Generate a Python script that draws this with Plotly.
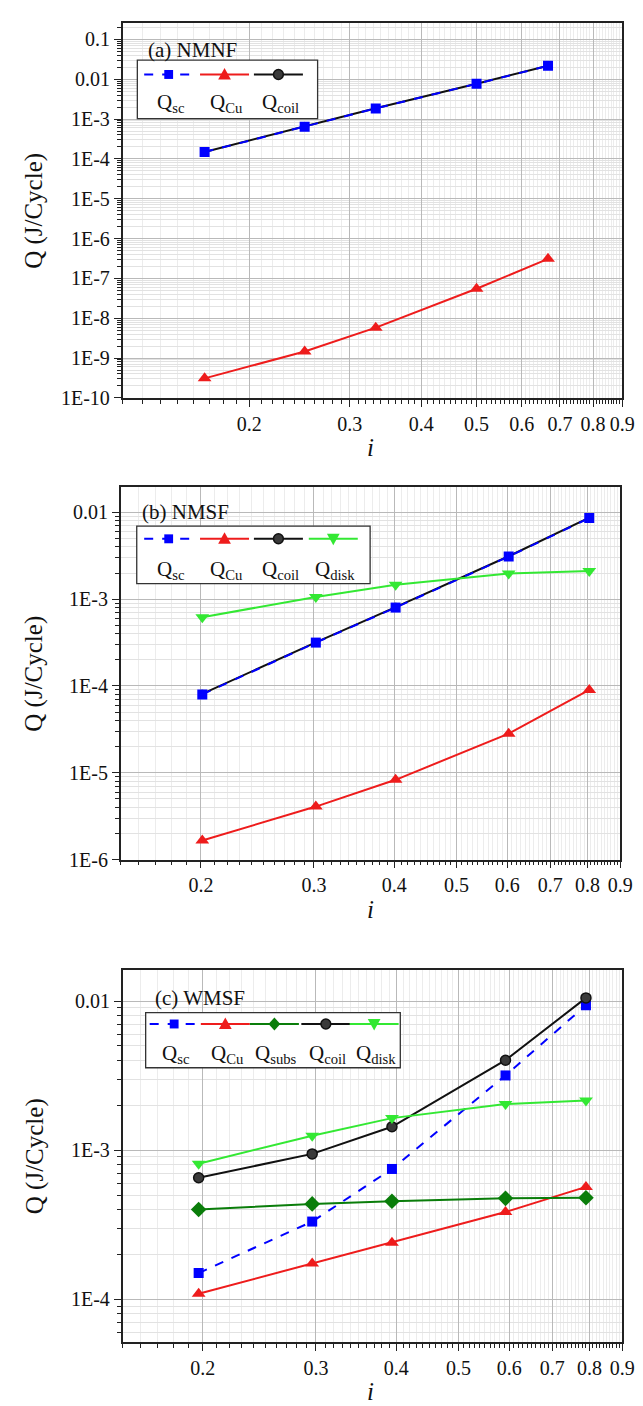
import math
import plotly.graph_objects as go

W, H = 643, 1406

# ---------------- data ----------------
a_x = [0.167, 0.25, 0.333, 0.5, 0.667]
a_sc = [1.49e-4, 6.4e-4, 1.86e-3, 7.7e-3, 2.18e-2]
a_cu = [3.1e-10, 1.46e-9, 5.8e-9, 5.5e-8, 3.1e-7]
a_coil = [1.50e-4, 6.45e-4, 1.87e-3, 7.75e-3, 2.19e-2]

b_x = [0.201, 0.302, 0.402, 0.603, 0.805]
b_sc = [8.0e-5, 3.16e-4, 8.0e-4, 3.1e-3, 8.6e-3]
b_cu = [1.66e-6, 4.08e-6, 8.3e-6, 2.82e-5, 9.0e-5]
b_coil = [8.1e-5, 3.18e-4, 8.1e-4, 3.12e-3, 8.7e-3]
b_disk = [6.2e-4, 1.06e-3, 1.47e-3, 1.97e-3, 2.11e-3]

c_x = [0.197, 0.296, 0.394, 0.592, 0.79]
c_sc = [1.50e-4, 3.32e-4, 7.48e-4, 3.17e-3, 9.37e-3]
c_cu = [1.09e-4, 1.74e-4, 2.39e-4, 3.85e-4, 5.67e-4]
c_subs = [4.0e-4, 4.36e-4, 4.54e-4, 4.75e-4, 4.8e-4]
c_coil = [6.53e-4, 9.44e-4, 1.435e-3, 4.01e-3, 1.05e-2]
c_disk = [8.11e-4, 1.25e-3, 1.64e-3, 2.04e-3, 2.15e-3]

x_ticks = [0.2, 0.3, 0.4, 0.5, 0.6, 0.7, 0.8, 0.9]
x_ticktext = ["0.2", "0.3", "0.4", "0.5", "0.6", "0.7", "0.8", "0.9"]
a_yticks = [1e-10, 1e-9, 1e-8, 1e-7, 1e-6, 1e-5, 1e-4, 1e-3, 1e-2, 1e-1]
a_yticktext = ["1E-10", "1E-9", "1E-8", "1E-7", "1E-6", "1E-5", "1E-4", "1E-3", "0.01", "0.1"]
b_yticks = [1e-6, 1e-5, 1e-4, 1e-3, 1e-2]
b_yticktext = ["1E-6", "1E-5", "1E-4", "1E-3", "0.01"]
c_yticks = [1e-4, 1e-3, 1e-2]
c_yticktext = ["1E-4", "1E-3", "0.01"]

BLUE = "#0000ff"
RED = "#ee1c1c"
BLACK = "#111111"
DGREEN = "#0a7d0a"
LGREEN = "#33e833"
FONT = "Liberation Serif"

STY = {
    "sc": dict(color=BLUE, dash="dash", symbol="square", size=10),
    "cu": dict(color=RED, dash="solid", symbol="triangle-up", size=12),
    "subs": dict(color=DGREEN, dash="solid", symbol="diamond", size=12),
    "coil": dict(color=BLACK, dash="solid", symbol="circle", size=10),
    "disk": dict(color=LGREEN, dash="solid", symbol="triangle-down", size=12),
}

# plot areas in pixels: (left, right, top, bottom)
PANELS = [
    dict(px=(117, 627, 15, 393), xr=(0.12, 0.9), yr=(-10, -0.584)),
    dict(px=(115, 625, 482.7, 858.3), xr=(0.15, 0.9), yr=(-6, -1.707)),
    dict(px=(117, 627, 969.3, 1344.3), xr=(0.15, 0.9), yr=(-4.285, -1.79)),
]

fig = go.Figure()


def add_series(idx, x, y, key, msize=None):
    s = STY[key]
    xa = "x" if idx == 0 else f"x{idx + 1}"
    ya = "y" if idx == 0 else f"y{idx + 1}"
    size = msize if msize is not None else s["size"]
    marker = dict(symbol=s["symbol"], size=size, color=s["color"])
    if key == "coil":
        marker = dict(symbol="circle", size=size, color="#3a3a3a",
                      line=dict(color=BLACK, width=1.5))
    fig.add_trace(go.Scatter(
        x=x, y=y, xaxis=xa, yaxis=ya, mode="lines+markers",
        line=dict(color=s["color"], width=2, dash=s["dash"]),
        marker=marker, showlegend=False))


add_series(0, a_x, a_coil, "coil", msize=7)
add_series(0, a_x, a_sc, "sc")
add_series(0, a_x, a_cu, "cu")

add_series(1, b_x, b_coil, "coil", msize=7)
add_series(1, b_x, b_sc, "sc")
add_series(1, b_x, b_cu, "cu")
add_series(1, b_x, b_disk, "disk")

add_series(2, c_x, c_sc, "sc")
add_series(2, c_x, c_cu, "cu")
add_series(2, c_x, c_subs, "subs")
add_series(2, c_x, c_coil, "coil")
add_series(2, c_x, c_disk, "disk")


def x_minor(lo):
    vals = []
    k = int(round(lo * 100))
    while k <= 90:
        v = k / 100
        if all(abs(v - t) > 1e-9 for t in x_ticks):
            vals.append(v)
        k += 1
    return vals


def y_minor(lo, hi):
    vals = []
    for d in range(int(math.floor(lo)) - 1, int(math.ceil(hi)) + 1):
        for m in range(2, 10):
            v = m * 10 ** d
            if lo <= math.log10(v) <= hi:
                vals.append(v)
    return vals


YT = [(a_yticks, a_yticktext), (b_yticks, b_yticktext), (c_yticks, c_yticktext)]
layout = {}
for i, p in enumerate(PANELS):
    l, r, t, b = p["px"]
    xkey = "xaxis" if i == 0 else f"xaxis{i + 1}"
    ykey = "yaxis" if i == 0 else f"yaxis{i + 1}"
    yid = "y" if i == 0 else f"y{i + 1}"
    xid = "x" if i == 0 else f"x{i + 1}"
    common = dict(showline=True, linecolor="#222222", linewidth=1.5, mirror=True,
                  ticks="outside", ticklen=7, tickwidth=1.3, tickcolor="#222222",
                  showgrid=True, gridcolor="#b9b9b9", gridwidth=1,
                  tickfont=dict(family=FONT, size=20, color="#111111"),
                  zeroline=False)
    layout[xkey] = dict(
        type="log", domain=[l / W, r / W], anchor=yid,
        range=[math.log10(p["xr"][0]), math.log10(p["xr"][1])],
        tickmode="array", tickvals=x_ticks, ticktext=x_ticktext,
        minor=dict(tickmode="array", tickvals=x_minor(p["xr"][0]), ticks="outside",
                   ticklen=4, tickcolor="#222222", showgrid=True, gridcolor="#ececec",
                   gridwidth=1),
        **common)
    tv, tt = YT[i]
    layout[ykey] = dict(
        type="log", domain=[1 - b / H, 1 - t / H], anchor=xid,
        range=list(p["yr"]),
        tickmode="array", tickvals=tv, ticktext=tt,
        minor=dict(tickmode="array", tickvals=y_minor(*p["yr"]), ticks="outside",
                   ticklen=4, tickcolor="#222222", showgrid=True, gridcolor="#e2e2e2",
                   gridwidth=1),
        **common)

shapes = []
annotations = []


def px2p(x, y):
    return x / W, 1 - y / H


def legend(box, line_y, label_y, entries):
    x0, y0 = px2p(box[0], box[1])
    x1, y1 = px2p(box[2], box[3])
    shapes.append(dict(type="rect", xref="paper", yref="paper", x0=x0, y0=y1, x1=x1, y1=y0,
                       line=dict(color="#333333", width=1.3), fillcolor="white", layer="above"))
    for cx, key, label in entries:
        s = STY[key]
        lx0, ly = px2p(cx - 25, line_y)
        lx1, _ = px2p(cx + 25, line_y)
        shapes.append(dict(type="line", xref="paper", yref="paper", x0=lx0, x1=lx1, y0=ly, y1=ly,
                           line=dict(color=s["color"], width=2, dash=s["dash"]), layer="above"))
        hs = 4.5
        if key == "sc":
            a0 = px2p(cx - hs, line_y - hs)
            a1 = px2p(cx + hs, line_y + hs)
            shapes.append(dict(type="rect", xref="paper", yref="paper", x0=a0[0], y0=a1[1],
                               x1=a1[0], y1=a0[1], fillcolor=s["color"], line=dict(width=0),
                               layer="above"))
        elif key == "coil":
            a0 = px2p(cx - 5, line_y - 5)
            a1 = px2p(cx + 5, line_y + 5)
            shapes.append(dict(type="circle", xref="paper", yref="paper", x0=a0[0], y0=a1[1],
                               x1=a1[0], y1=a0[1], fillcolor="#3a3a3a",
                               line=dict(color=BLACK, width=1.5), layer="above"))
        else:
            if key == "cu":
                pts = [(cx, line_y - 6.5), (cx + 6.5, line_y + 5), (cx - 6.5, line_y + 5)]
            elif key == "disk":
                pts = [(cx, line_y + 6.5), (cx + 6.5, line_y - 5), (cx - 6.5, line_y - 5)]
            else:
                pts = [(cx, line_y - 6.5), (cx + 6, line_y), (cx, line_y + 6.5), (cx - 6, line_y)]
            pp = [px2p(*q) for q in pts]
            path = "M " + " L ".join(f"{q[0]},{q[1]}" for q in pp) + " Z"
            shapes.append(dict(type="path", xref="paper", yref="paper", path=path,
                               fillcolor=s["color"], line=dict(width=0), layer="above"))
        tx, ty = px2p(cx + 2, label_y)
        annotations.append(dict(xref="paper", yref="paper", x=tx, y=ty, text=label,
                                showarrow=False, xanchor="center", yanchor="middle",
                                font=dict(family=FONT, size=21, color="#111111")))


legend((132, 52.5, 316, 111.5), 67, 96,
       [(164, "sc", "Q<sub>sc</sub>"), (221, "cu", "Q<sub>Cu</sub>"), (276, "coil", "Q<sub>coil</sub>")])
legend((131.4, 522.3, 369.6, 580.1), 535, 566,
       [(164, "sc", "Q<sub>sc</sub>"), (221, "cu", "Q<sub>Cu</sub>"),
        (276, "coil", "Q<sub>coil</sub>"), (332, "disk", "Q<sub>disk</sub>")])
legend((140.5, 1012.6, 400.4, 1068.1), 1024, 1054,
       [(169.6, "sc", "Q<sub>sc</sub>"), (221.8, "cu", "Q<sub>Cu</sub>"),
        (271.9, "subs", "Q<sub>subs</sub>"), (324.4, "coil", "Q<sub>coil</sub>"),
        (373.7, "disk", "Q<sub>disk</sub>")])

# panel titles
for (x, y, txt) in [(141, 42.8, "(a) NMNF"), (135, 508.3, "(b) NMSF"), (147.5, 998.3, "(c) WMSF")]:
    px_, py_ = px2p(x, y)
    annotations.append(dict(xref="paper", yref="paper", x=px_, y=py_, text=txt, showarrow=False,
                            xanchor="left", yanchor="middle",
                            font=dict(family=FONT, size=21, color="#111111")))

# axis titles
for i, p in enumerate(PANELS):
    l, r, t, b = p["px"]
    yx, yy = px2p(27, (t + b) / 2)
    annotations.append(dict(xref="paper", yref="paper", x=yx, y=yy, text="Q (J/Cycle)",
                            textangle=-90, showarrow=False, xanchor="center", yanchor="middle",
                            font=dict(family=FONT, size=25, color="#111111")))
    xx, xy = px2p(370, b + 50)
    annotations.append(dict(xref="paper", yref="paper", x=xx, y=xy, text="<i>i</i>",
                            showarrow=False, xanchor="center", yanchor="middle",
                            font=dict(family=FONT, size=25, color="#111111")))

fig.update_layout(
    width=W, height=H, margin=dict(l=0, r=0, t=0, b=0),
    paper_bgcolor="white", plot_bgcolor="white",
    showlegend=False, shapes=shapes, annotations=annotations,
    **layout)

fig.write_html("out.html")
